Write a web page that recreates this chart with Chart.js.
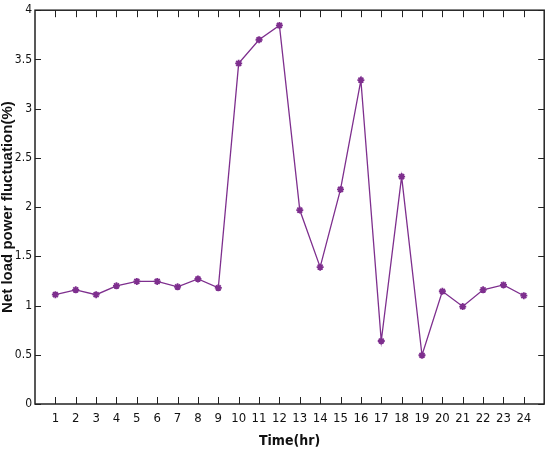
<!DOCTYPE html>
<html>
<head>
<meta charset="utf-8">
<script src="https://cdn.jsdelivr.net/npm/chart.js@4"></script>
<style>
  html, body { margin: 0; padding: 0; background: #fff; }
  #wrap { width: 550px; height: 450px; }
</style>
</head>
<body>
<div id="wrap"><canvas id="chart"></canvas></div>
<script>
const hours = [1, 2, 3, 4, 5, 6, 7, 8, 9, 10, 11, 12, 13, 14, 15, 16, 17, 18, 19, 20, 21, 22, 23, 24];
const fluctuation = [1.11, 1.16, 1.11, 1.20, 1.245, 1.245, 1.19, 1.27, 1.18, 3.46, 3.70, 3.845,
  1.97, 1.39, 2.18, 3.29, 0.64, 2.31, 0.495, 1.145, 0.99, 1.16, 1.21, 1.10];
const yTicks = [0, 0.5, 1, 1.5, 2, 2.5, 3, 3.5, 4];

const purple = "#7E2F8E";
const narrow = "'Liberation Sans Narrow', 'DejaVu Sans Condensed', 'Liberation Sans', Arial";
const tickFont = { family: narrow, size: 12 };

// box round the plot and MATLAB-style inward tick marks
const frame = {
  id: "frame",
  afterDatasetsDraw(chart) {
    const { ctx, chartArea: a, scales } = chart;
    ctx.save();
    ctx.strokeStyle = "#222";
    ctx.lineWidth = 1;
    ctx.beginPath();
    hours.forEach((h) => {
      const x = Math.round(scales.x.getPixelForValue(h)) + 0.5;
      ctx.moveTo(x, a.bottom); ctx.lineTo(x, a.bottom - 7);
      ctx.moveTo(x, a.top); ctx.lineTo(x, a.top + 7);
    });
    yTicks.forEach((v) => {
      const y = Math.round(scales.y.getPixelForValue(v)) + 0.5;
      ctx.moveTo(a.left, y); ctx.lineTo(a.left + 6, y);
      ctx.moveTo(a.right, y); ctx.lineTo(a.right - 6, y);
    });
    ctx.stroke();
    ctx.lineWidth = 1.5;
    ctx.strokeRect(a.left, a.top, a.right - a.left, a.bottom - a.top);
    ctx.restore();
  },
};

new Chart(document.getElementById("chart"), {
  type: "line",
  data: {
    datasets: [
      {
        label: "Net load power fluctuation",
        data: hours.map((h, i) => ({ x: h, y: fluctuation[i] })),
        borderColor: purple,
        backgroundColor: purple,
        borderWidth: 1.3,
        pointStyle: "star",
        pointRadius: 3.5,
        pointBorderWidth: 1.8,
        tension: 0,
      },
    ],
  },
  options: {
    responsive: true,
    maintainAspectRatio: false,
    animation: false,
    layout: { padding: { top: 8, right: 5, left: 0, bottom: 0 } },
    plugins: { legend: { display: false }, tooltip: { enabled: false } },
    scales: {
      x: {
        type: "linear",
        min: 0,
        max: 25,
        afterFit: (s) => { s.height = 46; },
        afterBuildTicks: (s) => { s.ticks = hours.map((h) => ({ value: h })); },
        grid: { display: false, drawTicks: false },
        border: { display: false },
        ticks: { color: "#111", font: { family: narrow, size: 13 }, padding: 7, maxRotation: 0, autoSkip: false },
        title: {
          display: true,
          text: "Time(hr)",
          color: "#111",
          font: { family: narrow, size: 14, weight: "bold" },
          padding: { top: 0, bottom: 0 },
        },
      },
      y: {
        min: 0,
        max: 4,
        afterFit: (s) => { s.width = 35; },
        afterBuildTicks: (s) => { s.ticks = yTicks.map((v) => ({ value: v })); },
        grid: { display: false, drawTicks: false },
        border: { display: false },
        ticks: { color: "#111", font: tickFont, padding: 3, callback: (v) => String(v) },
        title: {
          display: true,
          text: "Net load power fluctuation(%)",
          color: "#111",
          font: { family: "'Liberation Sans', Arial", size: 15, weight: "bold", lineHeight: 1 },
          padding: { top: 0, bottom: 0 },
        },
      },
    },
  },
  plugins: [frame],
});
</script>
</body>
</html>
